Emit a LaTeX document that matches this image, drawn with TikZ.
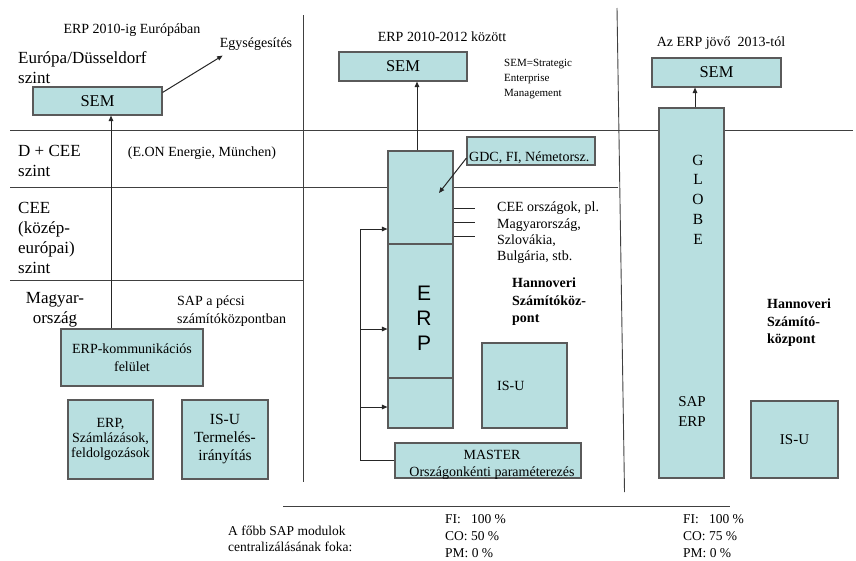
\documentclass[tikz,border=0pt]{standalone}
\usepackage{fontspec}
\setmainfont{Liberation Serif}
\newfontfamily\sansf{Liberation Sans}
\usetikzlibrary{arrows.meta}
\definecolor{boxfill}{HTML}{B8DFE0}
\definecolor{boxline}{HTML}{5A5A5A}
\definecolor{sepline}{HTML}{404040}
\begin{document}
\begin{tikzpicture}[x=1pt,y=-1pt,
  box/.style={draw=boxline, fill=boxfill, line width=1.1pt, inner sep=0pt, align=center},
  sepl/.style={draw=sepline, line width=0.9pt},
  arr/.style={-{Triangle[length=5.5pt,width=4.5pt]}, line width=1pt, draw=black!85},
  lnk/.style={line width=1pt, draw=black!85},
  tx/.style={inner sep=0pt, font=\fontsize{14}{16}\selectfont},
  big/.style={inner sep=0pt, align=left, font=\fontsize{17}{20}\selectfont},
  small/.style={inner sep=0pt, align=left, font=\fontsize{11}{15}\selectfont}]
\useasboundingbox (0,0) rectangle (856,560);

% separators
\draw[sepl] (10,130) -- (853,130);
\draw[sepl] (10,187) -- (618,187);
\draw[sepl] (10,280) -- (303,280);
\draw[sepl] (303,15) -- (303,482);
\draw[sepl] (617,8) -- (624.5,492);
\draw[sepl] (283,506) -- (730,506);

% ===== left column =====
\node[tx] (t1) at (132,30) {ERP 2010-ig Európában};
\node[tx] (egys) at (256,44) {Egységesítés};
\node[big, anchor=north west] (lvl1) at (18,51) {Európa/Düsseldorf\\szint};
\node[box, minimum width=129, minimum height=28, font=\fontsize{16.5}{18}\selectfont] (sem1) at (97.5,101) {SEM};
\node[big, anchor=north west] (lvl2) at (18,145) {D + CEE\\szint};
\node[tx] (eon) at (202,153) {(E.ON Energie, München)};
\node[big, anchor=north west] (lvl3) at (18,202) {CEE\\(közép-\\európai)\\szint};
\node[big, align=center] (lvl4) at (55,310) {Magyar-\\ország};
\node[tx, align=left, anchor=west, font=\fontsize{14}{18}\selectfont] (pecs) at (177,311) {SAP a pécsi\\számítóközpontban};
\node[box, minimum width=142, minimum height=57, font=\fontsize{14}{18}\selectfont] (komm) at (132,357.5) {ERP-kommunikációs\\felület};
\node[box, minimum width=85, minimum height=79, font=\fontsize{14}{15}\selectfont] (erpl) at (110.5,439.5) {ERP,\\Számlázások,\\feldolgozások};
\node[box, minimum width=86, minimum height=79, font=\fontsize{15.5}{18}\selectfont] (isul) at (225,439.5) {IS-U\\Termelés-\\irányítás};
\draw[arr] ([xshift=-21pt]komm.north) -- ([xshift=-21pt]komm.north |- sem1.south);
\draw[arr] ([yshift=-6pt]sem1.north east) -- ([xshift=3pt,yshift=-5pt]egys.south west);

% ===== middle column =====
\node[tx] (t2) at (442,37) {ERP 2010-2012 között};
\node[box, minimum width=128, minimum height=29, font=\fontsize{16.5}{18}\selectfont] (sem2) at (403,66.5) {SEM};
\node[small, anchor=north west] (semdef) at (504,59) {SEM=Strategic\\Enterprise\\Management};
\node[box, minimum width=65, minimum height=93] (erpA) at (420.5,197.5) {};
\node[box, minimum width=65, minimum height=134] (erpB) at (420.5,311) {};
\node[box, minimum width=65, minimum height=50] (erpC) at (420.5,403) {};
\node[inner sep=0pt, align=center, font=\sansf\fontsize{21}{25}\selectfont] (erpt) at (424,318) {E\\R\\P};
\draw[arr] ([xshift=-3.5pt]erpA.north) -- ([xshift=-3.5pt]erpA.north |- sem2.south);
\node[box, minimum width=128, minimum height=28] (gdc) at (531,151) {};
\node[tx, anchor=west] (gdct) at (469,158) {GDC, FI, Németorsz.};
\coordinate (gdcTip) at (439,193);
\draw[arr] ([yshift=-7pt]gdc.west) -- (gdcTip);
\draw[lnk] (erpA.east |- 0,208) -- ++(21,0);
\draw[lnk] (erpA.east |- 0,222) -- ++(21,0);
\draw[lnk] (erpA.east |- 0,236) -- ++(21,0);
\node[tx, align=left, anchor=north west, font=\fontsize{14}{16.3}\selectfont] (cee) at (497,202) {CEE országok, pl.\\Magyarország,\\Szlovákia,\\Bulgária, stb.};
\node[tx, align=left, anchor=north west, font=\bfseries\fontsize{14}{17.5}\selectfont] (hann1) at (512,278) {Hannoveri\\Számítóköz-\\pont};
\node[box, minimum width=85, minimum height=85] (isum) at (524.5,385.5) {};
\node[tx, anchor=west] (isumt) at (497,386) {IS-U};
\node[box, minimum width=186, minimum height=35] (master) at (488,460.5) {};
\node[tx, align=center, font=\fontsize{14}{17}\selectfont] (mastert) at (492,465) {MASTER\\Országonkénti paraméterezés};
\coordinate (bkTop) at (360,229);
\coordinate (bkMid) at (360,329);
\coordinate (bkLow) at (360,407);
\coordinate (bkBot) at (360,460.5);
\draw[lnk] (master.west) -- (bkBot) -- (bkTop);
\draw[arr] (bkTop) -- (bkTop -| erpA.west);
\draw[arr] (bkMid) -- (bkMid -| erpB.west);
\draw[arr] (bkLow) -- (bkLow -| erpC.west);

% ===== right column =====
\node[tx] (t3) at (721,43) {Az ERP jövő\ \ 2013-tól};
\node[box, minimum width=129, minimum height=29, font=\fontsize{16.5}{18}\selectfont] (sem3) at (716.5,72.5) {SEM};
\node[box, minimum width=65, minimum height=370] (globe) at (691.5,293) {};
\draw[arr] ([xshift=3.5pt]globe.north) -- ([xshift=3.5pt]globe.north |- sem3.south);
\node[inner sep=0pt, align=center, font=\fontsize{15.5}{19.7}\selectfont] (globet) at (698,199.5) {G\\L\\O\\B\\E};
\node[inner sep=0pt, align=left, font=\fontsize{15}{20}\selectfont] (saperp) at (692,412) {SAP\\ERP};
\node[tx, align=left, anchor=north west, font=\bfseries\fontsize{14}{17.5}\selectfont] (hann2) at (767,299) {Hannoveri\\Számító-\\központ};
\node[box, minimum width=87, minimum height=77, font=\fontsize{15}{18}\selectfont] (isur) at (794.5,439.5) {IS-U};

% ===== bottom =====
\node[tx, align=left, anchor=north west, font=\fontsize{13.5}{16}\selectfont] (fobb) at (228,526) {A főbb SAP modulok\\centralizálásának foka:};
\node[tx, align=left, anchor=north west, font=\fontsize{13.5}{17}\selectfont] (pct1) at (445,514) {FI:\ \ \ 100 \%\\CO: 50 \%\\PM: 0 \%};
\node[tx, align=left, anchor=north west, font=\fontsize{13.5}{17}\selectfont] (pct2) at (683,514) {FI:\ \ \ 100 \%\\CO: 75 \%\\PM: 0 \%};
\end{tikzpicture}
\end{document}
